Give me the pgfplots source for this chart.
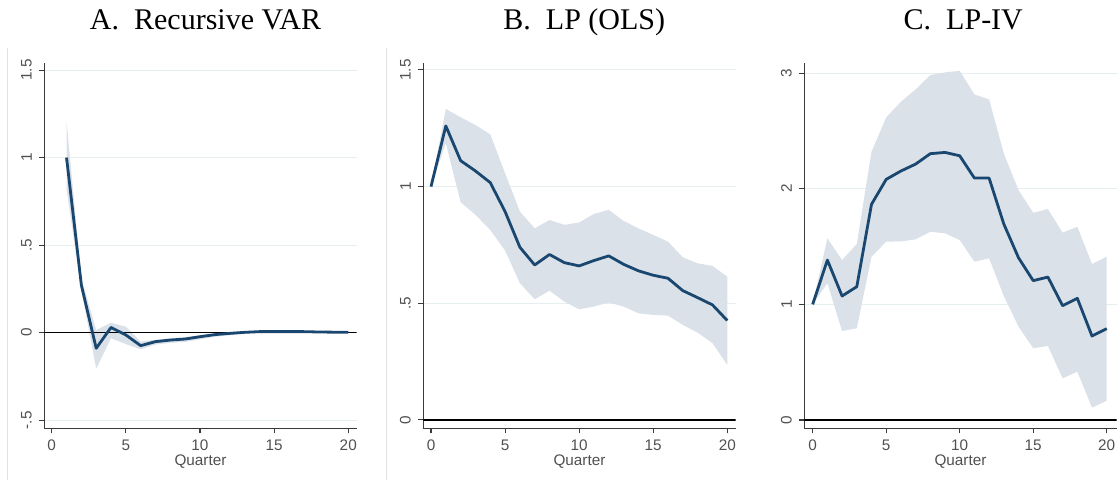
\documentclass[border=0pt]{standalone}
\usepackage{fontspec}
\setmainfont{Liberation Serif}
\newfontfamily\arialf{Liberation Sans}
\usepackage{pgfplots}
\usepackage{pgfplotstable}
\usepgfplotslibrary{fillbetween}
\pgfplotsset{compat=1.18}
\definecolor{stnavy}{HTML}{1A476F}
\definecolor{bandc}{HTML}{DAE1E8}
\definecolor{gridc}{HTML}{E6EEF0}
\definecolor{axc}{HTML}{3A3A3A}
\definecolor{tickc}{HTML}{505050}
\definecolor{framec}{HTML}{E2E2E2}

\pgfplotstableread{
x lo hi irf
1 0.82 1.21 1.00
2 0.24 0.31 0.272
3 -0.205 0.015 -0.089
4 -0.032 0.057 0.03
5 -0.065 0.034 -0.013
6 -0.095 -0.051 -0.074
7 -0.068 -0.040 -0.051
8 -0.058 -0.032 -0.042
9 -0.052 -0.026 -0.036
10 -0.038 -0.014 -0.023
11 -0.024 -0.004 -0.011
12 -0.014 0.004 -0.004
13 -0.006 0.009 0.002
14 -0.002 0.012 0.006
15 -0.001 0.012 0.006
16 -0.001 0.012 0.006
17 0.000 0.011 0.006
18 0.000 0.009 0.004
19 -0.001 0.006 0.003
20 -0.001 0.005 0.002
}\dataA

\pgfplotstableread{
x lo hi irf
0 1.0 1.0 1.0
1 1.186 1.333 1.26
2 0.933 1.297 1.111
3 0.879 1.264 1.067
4 0.814 1.224 1.017
5 0.726 1.057 0.893
6 0.586 0.893 0.74
7 0.517 0.821 0.664
8 0.554 0.857 0.709
9 0.507 0.836 0.674
10 0.474 0.846 0.66
11 0.486 0.883 0.683
12 0.503 0.9 0.703
13 0.486 0.853 0.667
14 0.457 0.821 0.639
15 0.45 0.793 0.62
16 0.447 0.764 0.607
17 0.407 0.697 0.554
18 0.374 0.671 0.524
19 0.329 0.66 0.493
20 0.236 0.614 0.426
}\dataB

\pgfplotstableread{
x lo hi irf
0 1.0 1.0 1.0
1 1.182 1.571 1.383
2 0.769 1.383 1.072
3 0.793 1.522 1.153
4 1.412 2.32 1.865
5 1.542 2.617 2.081
6 1.545 2.752 2.153
7 1.562 2.859 2.213
8 1.628 2.983 2.303
9 1.614 3.006 2.314
10 1.556 3.02 2.285
11 1.369 2.816 2.092
12 1.398 2.772 2.092
13 1.072 2.305 1.695
14 0.807 1.988 1.403
15 0.62 1.792 1.205
16 0.64 1.824 1.236
17 0.36 1.62 0.988
18 0.418 1.671 1.052
19 0.107 1.349 0.726
20 0.167 1.412 0.79
}\dataC

\pgfplotsset{stataax/.style={
  scale only axis, width=312.4pt, height=365.6pt,
  anchor=south west,
  axis x line*=bottom, axis y line*=left,
  axis line style={axc, line width=1.3pt, -},
  xtick={0,5,10,15,20},
  xticklabels={0,5,10,15,20},
  tick align=outside, major tick length=5pt,
  tick style={axc, line width=1.1pt},
  ymajorgrids, grid style={gridc, line width=1pt},
  ticklabel style={font=\arialf\fontsize{15.3}{15.3}\selectfont, text=tickc},
  yticklabel style={rotate=90, anchor=south},
  yticklabel shift=4pt,
  xticklabel shift=3pt,
  xlabel={Quarter},
  xlabel style={font=\arialf\fontsize{15.3}{15.3}\selectfont, text=tickc,
    at={(axis description cs:0.5,0)}, anchor=base, yshift=-37pt},
}}

\begin{document}
\begin{tikzpicture}[x=1pt,y=1pt]
\draw[framec, line width=0.8pt] (7pt,2pt) -- (7pt,434pt);
\draw[framec, line width=0.8pt] (386.5pt,2pt) -- (386.5pt,434pt);

\node[anchor=base, font=\fontsize{30}{30}\selectfont] at (205.5pt,452.7pt) {A.~~Recursive VAR};
\node[anchor=base, font=\fontsize{30}{30}\selectfont] at (584.3pt,452.7pt) {B.~~LP (OLS)};
\node[anchor=base, font=\fontsize{30}{30}\selectfont] at (963.3pt,452.7pt) {C.~~LP-IV};

% Panel A
\begin{axis}[stataax, at={(44.3pt,53.7pt)},
  xmin=-0.5, xmax=20.57, ymin=-0.546, ymax=1.542,
  ytick={-0.5,0,0.5,1,1.5}, yticklabels={-.5,0,.5,1,1.5}]
\addplot[name path=uA, draw=none] table[x=x,y=hi] {\dataA};
\addplot[name path=lA, draw=none] table[x=x,y=lo] {\dataA};
\addplot[bandc] fill between[of=uA and lA];
\draw[black, line width=1.2pt] ({rel axis cs:0,0}|-{axis cs:0,0}) -- ({rel axis cs:1,0}|-{axis cs:0,0});
\addplot[stnavy, line width=2.8pt, line join=round] table[x=x,y=irf] {\dataA};
\end{axis}

% Panel B
\begin{axis}[stataax, at={(423.3pt,53.7pt)},
  xmin=-0.52, xmax=20.57, ymin=-0.036, ymax=1.531,
  ytick={0,0.5,1,1.5}, yticklabels={0,.5,1,1.5}]
\addplot[name path=uB, draw=none] table[x=x,y=hi] {\dataB};
\addplot[name path=lB, draw=none] table[x=x,y=lo] {\dataB};
\addplot[bandc] fill between[of=uB and lB];
\draw[black, line width=1.2pt] ({rel axis cs:0,0}|-{axis cs:0,0}) -- ({rel axis cs:1,0}|-{axis cs:0,0});
\addplot[stnavy, line width=2.8pt, line join=round] table[x=x,y=irf] {\dataB};
\end{axis}

% Panel C
\begin{axis}[stataax, at={(804.3pt,53.7pt)},
  xmin=-0.57, xmax=20.68, ymin=-0.072, ymax=3.09,
  ytick={0,1,2,3}, yticklabels={0,1,2,3}]
\addplot[name path=uC, draw=none] table[x=x,y=hi] {\dataC};
\addplot[name path=lC, draw=none] table[x=x,y=lo] {\dataC};
\addplot[bandc] fill between[of=uC and lC];
\draw[black, line width=1.2pt] ({rel axis cs:0,0}|-{axis cs:0,0}) -- ({rel axis cs:1,0}|-{axis cs:0,0});
\addplot[stnavy, line width=2.8pt, line join=round] table[x=x,y=irf] {\dataC};
\end{axis}

\pgfresetboundingbox
\useasboundingbox (0pt,0pt) rectangle (1118pt,482pt);
\end{tikzpicture}
\end{document}
